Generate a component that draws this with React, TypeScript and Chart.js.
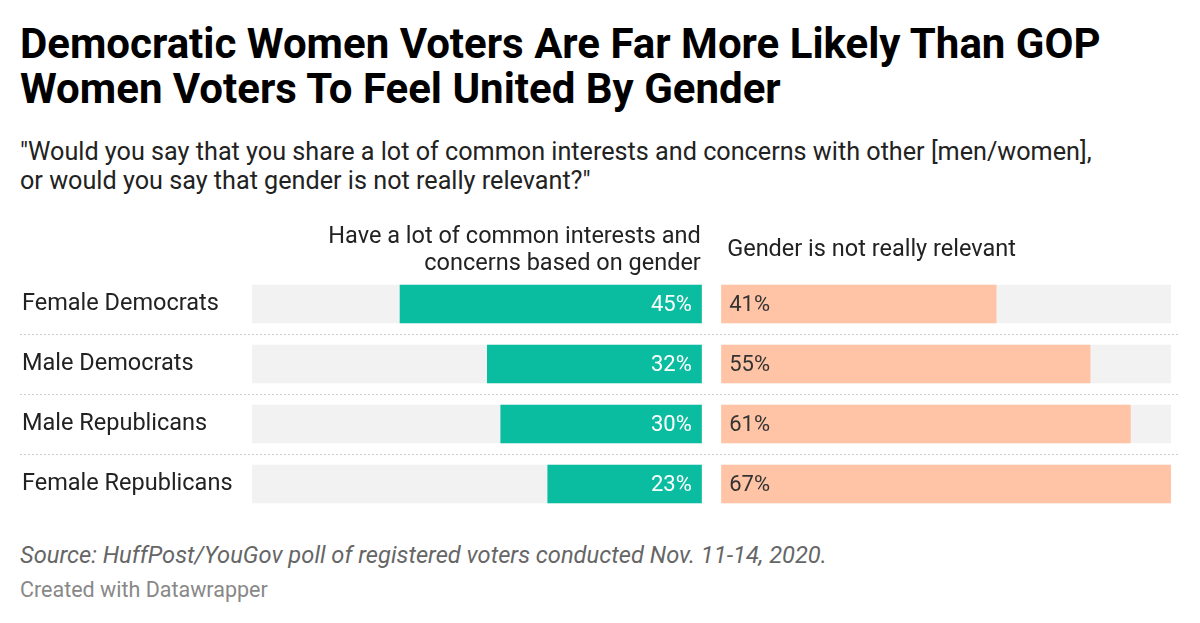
import React, { useEffect, useRef } from "react";
import { Chart, registerables } from "chart.js";

Chart.register(...registerables);

const title = "Democratic Women Voters Are Far More Likely Than GOP Women Voters To Feel United By Gender";
const subtitle = "\"Would you say that you share a lot of common interests and concerns with other [men/women], or would you say that gender is not really relevant?\"";
const sourceNote = "Source: HuffPost/YouGov poll of registered voters conducted Nov. 11-14, 2020.";
const creditNote = "Created with Datawrapper";

const categories = ["Female Democrats", "Male Democrats", "Male Republicans", "Female Republicans"];
const commonInterests = [45, 32, 30, 23];
const notRelevant = [41, 55, 61, 67];
const headerLeft = ["Have a lot of common interests and", "concerns based on gender"];
const headerRight = ["Gender is not really relevant"];

const SCALE_MAX = 67;
const GAP = 2.88;

const TEAL = "#0abda0";
const SALMON = "#ffc4a5";
const PANEL = "#f2f2f2";
const FONT = "Roboto, 'Noto Sans', sans-serif";

const overlayPlugin = {
  id: "overlay",
  beforeDatasetsDraw(chart: any) {
    const { ctx, scales } = chart;
    const y = scales.y;
    ctx.save();
    ctx.strokeStyle = "#cfcfcf";
    ctx.lineWidth = 1;
    ctx.setLineDash([2, 2]);
    for (let i = 0; i < categories.length - 1; i++) {
      const yy = Math.round((y.getPixelForValue(i) + y.getPixelForValue(i + 1)) / 2) + 0.5;
      ctx.beginPath();
      ctx.moveTo(20, yy);
      ctx.lineTo(1179, yy);
      ctx.stroke();
    }
    ctx.restore();
  },
  afterDatasetsDraw(chart: any) {
    const { ctx, scales, chartArea } = chart;
    const x = scales.x;
    ctx.save();
    ctx.font = `22px ${FONT}`;
    ctx.textBaseline = "middle";
    const left = chart.getDatasetMeta(2);
    left.data.forEach((el: any, i: number) => {
      const end = Math.max(el.x, el.base);
      ctx.fillStyle = "#ffffff";
      ctx.textAlign = "right";
      ctx.fillText(`${commonInterests[i]}%`, end - 10, el.y + 1);
    });
    const right = chart.getDatasetMeta(3);
    right.data.forEach((el: any, i: number) => {
      const start = Math.min(el.x, el.base);
      ctx.fillStyle = "#333333";
      ctx.textAlign = "left";
      ctx.fillText(`${notRelevant[i]}%`, start + 8, el.y + 1);
    });
    // column headers
    ctx.font = `23.5px ${FONT}`;
    ctx.fillStyle = "#222222";
    ctx.textBaseline = "alphabetic";
    ctx.textAlign = "right";
    const x0 = x.getPixelForValue(0);
    headerLeft.forEach((line, i) => {
      ctx.fillText(line, x0 - 1, chartArea.top - 31 + i * 26.7);
    });
    ctx.textAlign = "left";
    const x1 = x.getPixelForValue(GAP);
    headerRight.forEach((line, i) => {
      ctx.fillText(line, x1 + 6, chartArea.top - 18.5 + i * 26.7);
    });
    ctx.restore();
  },
};

export default function App() {
  const ref = useRef<HTMLCanvasElement | null>(null);

  useEffect(() => {
    if (!ref.current) return;
    const chart = new Chart(ref.current, {
      type: "bar",
      data: {
        labels: categories,
        datasets: [
          {
            label: "panel-left",
            data: categories.map(() => [-SCALE_MAX, 0]) as any,
            backgroundColor: PANEL,
            order: 3,
          },
          {
            label: "panel-right",
            data: categories.map(() => [GAP, GAP + SCALE_MAX]) as any,
            backgroundColor: PANEL,
            order: 3,
          },
          {
            label: headerLeft.join(" "),
            data: commonInterests.map((v) => [-v, 0]) as any,
            backgroundColor: TEAL,
            order: 1,
          },
          {
            label: headerRight.join(" "),
            data: notRelevant.map((v) => [GAP, GAP + v]) as any,
            backgroundColor: SALMON,
            order: 1,
          },
        ],
      },
      options: {
        indexAxis: "y",
        responsive: true,
        maintainAspectRatio: false,
        animation: false,
        datasets: {
          bar: {
            grouped: false,
            categoryPercentage: 1,
            barPercentage: 0.645,
            borderWidth: 0,
          },
        },
        layout: { padding: { left: 22, right: 29, top: 59, bottom: 1 } },
        plugins: {
          legend: { display: false },
          tooltip: { enabled: false },
          title: { display: false },
        },
        scales: {
          x: {
            display: false,
            min: -SCALE_MAX,
            max: GAP + SCALE_MAX,
          },
          y: {
            grid: { display: false },
            border: { display: false },
            ticks: {
              crossAlign: "far",
              color: "#222222",
              font: { family: FONT, size: 23.5 },
              padding: 0,
            },
            afterFit(scale: any) {
              scale.width = 230;
              scale.paddingTop = 0;
              scale.paddingBottom = 0;
            },
          },
        },
      } as any,
      plugins: [overlayPlugin],
    });
    return () => chart.destroy();
  }, []);

  return (
    <div
      style={{
        position: "absolute",
        left: 0,
        top: 0,
        width: 1200,
        height: 623,
        background: "#ffffff",
        fontFamily: FONT,
        overflow: "hidden",
      }}
    >
      <div
        style={{
          position: "absolute",
          left: 20,
          top: 21,
          width: 1120,
          fontSize: 42,
          lineHeight: "45px",
          fontWeight: 700,
          color: "#000000",
        }}
      >
        {title}
      </div>
      <div
        style={{
          position: "absolute",
          left: 20,
          top: 138,
          width: 1092,
          fontSize: 25.2,
          lineHeight: "28.5px",
          color: "#222222",
        }}
      >
        {subtitle}
      </div>
      <div style={{ position: "absolute", left: 0, top: 215, width: 1200, height: 300 }}>
        <canvas ref={ref} />
      </div>
      <div
        style={{
          position: "absolute",
          left: 20,
          top: 542,
          fontSize: 23.7,
          lineHeight: "26px",
          fontStyle: "italic",
          color: "#666666",
        }}
      >
        {sourceNote}
      </div>
      <div
        style={{
          position: "absolute",
          left: 20,
          top: 578,
          fontSize: 21.5,
          lineHeight: "24px",
          color: "#888888",
        }}
      >
        {creditNote}
      </div>
    </div>
  );
}
